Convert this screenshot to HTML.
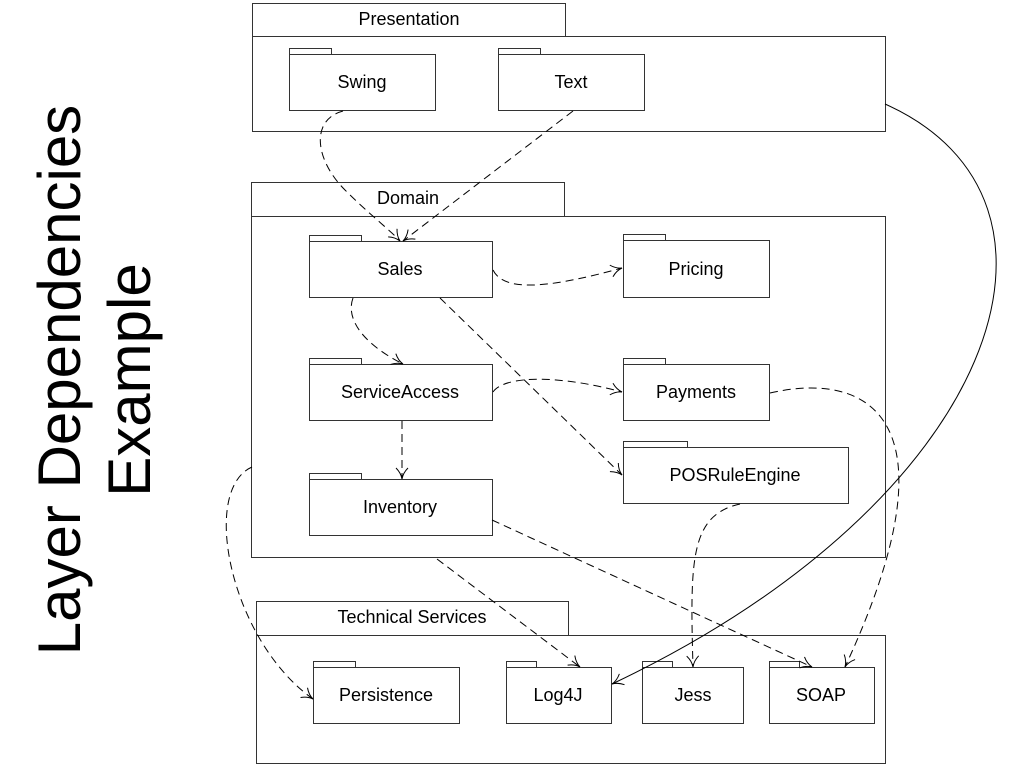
<!DOCTYPE html>
<html><head><style>body{margin:0;background:#fff}svg{display:block}</style></head><body>
<svg width="1024" height="768" viewBox="0 0 1024 768" xmlns="http://www.w3.org/2000/svg" font-family="Liberation Sans, sans-serif">
<defs><marker id="a" markerWidth="14" markerHeight="14" refX="12" refY="7" orient="auto" markerUnits="userSpaceOnUse"><path d="M1,1 Q6,6 12,7 Q6,8 1,13" fill="none" stroke="#000" stroke-width="1"/></marker></defs>
<text transform="translate(80,380) rotate(-90)" font-size="60" text-anchor="middle">Layer Dependencies</text>
<text transform="translate(150,380) rotate(-90)" font-size="60" text-anchor="middle">Example</text>
<g fill="#fff" stroke="#333" stroke-width="1">
<rect x="252.5" y="3.5" width="313" height="33"/><rect x="252.5" y="36.5" width="633" height="95"/>
<rect x="251.5" y="182.5" width="313" height="34"/><rect x="251.5" y="216.5" width="634" height="341"/>
<rect x="256.5" y="601.5" width="312" height="34"/><rect x="256.5" y="635.5" width="629" height="128"/>
<rect x="289.5" y="48.5" width="42" height="6"/><rect x="289.5" y="54.5" width="146" height="56"/>
<rect x="498.5" y="48.5" width="42" height="6"/><rect x="498.5" y="54.5" width="146" height="56"/>
<rect x="309.5" y="235.5" width="52" height="6"/><rect x="309.5" y="241.5" width="183" height="56"/>
<rect x="623.5" y="234.5" width="42" height="6"/><rect x="623.5" y="240.5" width="146" height="57"/>
<rect x="309.5" y="358.5" width="52" height="6"/><rect x="309.5" y="364.5" width="183" height="56"/>
<rect x="623.5" y="358.5" width="42" height="6"/><rect x="623.5" y="364.5" width="146" height="56"/>
<rect x="623.5" y="441.5" width="64" height="6"/><rect x="623.5" y="447.5" width="225" height="56"/>
<rect x="309.5" y="473.5" width="52" height="6"/><rect x="309.5" y="479.5" width="183" height="56"/>
<rect x="313.5" y="661.5" width="42" height="6"/><rect x="313.5" y="667.5" width="146" height="56"/>
<rect x="506.5" y="661.5" width="30" height="6"/><rect x="506.5" y="667.5" width="105" height="56"/>
<rect x="642.5" y="661.5" width="30" height="6"/><rect x="642.5" y="667.5" width="101" height="56"/>
<rect x="769.5" y="661.5" width="30" height="6"/><rect x="769.5" y="667.5" width="105" height="56"/>
</g>
<g font-size="18" text-anchor="middle">
<text x="409" y="25">Presentation</text><text x="362" y="88">Swing</text><text x="571" y="88">Text</text>
<text x="408" y="204">Domain</text><text x="400" y="275">Sales</text><text x="696" y="275">Pricing</text>
<text x="400" y="398">ServiceAccess</text><text x="696" y="398">Payments</text><text x="735" y="481">POSRuleEngine</text>
<text x="400" y="513">Inventory</text><text x="412" y="623">Technical Services</text>
<text x="386" y="701">Persistence</text><text x="558" y="701">Log4J</text><text x="693" y="701">Jess</text><text x="821" y="701">SOAP</text>
</g>
<g fill="none" stroke="#000" stroke-width="1" stroke-dasharray="8,5" marker-end="url(#a)">
<path d="M343,111 C310,120 315,160 345,190 C370,215 390,230 400,241"/>
<path d="M573,111 L403,241"/>
<path d="M493,270 C505,295 560,285 622,268"/>
<path d="M353,298 C345,320 365,345 403,364"/>
<path d="M440,298 L622,475"/>
<path d="M493,392 C505,375 560,375 622,392"/>
<path d="M402,421 L402,479"/>
<path d="M252,467 C200,490 230,640 313,699"/>
<path d="M437,559 L580,667"/>
<path d="M492,520 L812,667"/>
<path d="M740,504 C690,515 690,560 693,667"/>
<path d="M770,393 C870,370 960,420 845,667"/>
</g>
<path d="M885,104 C1100,200 1000,500 612,684" fill="none" stroke="#000" stroke-width="1" marker-end="url(#a)"/>
</svg>
</body></html>
